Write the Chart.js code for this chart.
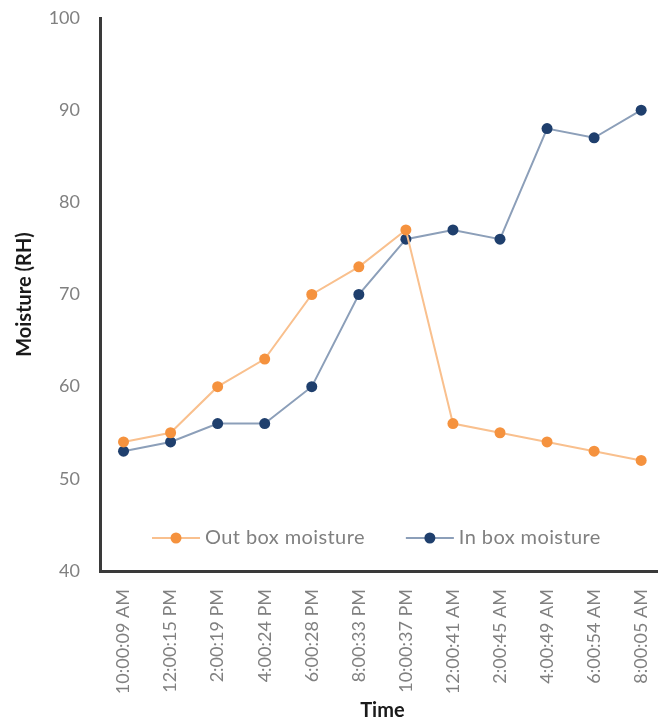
<!DOCTYPE html>
<html>
<head>
<meta charset="utf-8">
<script src="https://cdn.jsdelivr.net/npm/chart.js@4.4.1/dist/chart.umd.min.js"></script>
<style>
  html, body { margin: 0; padding: 0; background: #fff; overflow: hidden; width: 658px; height: 723px; }
  #wrap { width: 681px; height: 723px; }
</style>
</head>
<body>
<div id="wrap"><canvas id="c" width="681" height="723"></canvas></div>
<script>
const timeLabels = ['10:00:09 AM', '12:00:15 PM', '2:00:19 PM', '4:00:24 PM', '6:00:28 PM', '8:00:33 PM',
                    '10:00:37 PM', '12:00:41 AM', '2:00:45 AM', '4:00:49 AM', '6:00:54 AM', '8:00:05 AM'];
const outBoxMoisture = [54, 55, 60, 63, 70, 73, 77, 56, 55, 54, 53, 52];
const inBoxMoisture  = [53, 54, 56, 56, 60, 70, 76, 77, 76, 88, 87, 90];
const yMin = 40, yMax = 100, yStep = 10;

const FONT = 'Lato, "Open Sans", sans-serif';
const TICK_COLOR = '#808080';
const AXIS_COLOR = '#3a3a3a';

// Legend drawn inside the plot, just above the time axis
const insideLegend = {
  id: 'insideLegend',
  afterDatasetsDraw(chart) {
    const { ctx, chartArea } = chart;
    const y = chartArea.bottom - 33;
    const lineLen = 48, gap = 5, itemGap = 41;
    ctx.save();
    ctx.font = '20px ' + FONT;
    ctx.letterSpacing = '0.4px';
    ctx.textBaseline = 'middle';
    let x = chartArea.left + 52;
    chart.data.datasets.forEach(ds => {
      ctx.strokeStyle = ds.borderColor;
      ctx.lineWidth = ds.borderWidth;
      ctx.beginPath();
      ctx.moveTo(x, y);
      ctx.lineTo(x + lineLen, y);
      ctx.stroke();
      ctx.fillStyle = ds.pointBackgroundColor;
      ctx.beginPath();
      ctx.arc(x + lineLen / 2, y, ds.pointRadius, 0, Math.PI * 2);
      ctx.fill();
      ctx.fillStyle = TICK_COLOR;
      ctx.textAlign = 'left';
      ctx.fillText(ds.label, x + lineLen + gap, y);
      x += lineLen + gap + ctx.measureText(ds.label).width + itemGap;
    });
    ctx.restore();
  }
};

new Chart(document.getElementById('c'), {
  type: 'line',
  data: {
    labels: timeLabels,
    datasets: [
      {
        label: 'Out box moisture',
        data: outBoxMoisture,
        borderColor: '#f9c08e',
        borderWidth: 2,
        pointBackgroundColor: '#f5923e',
        pointBorderColor: '#f5923e',
        pointBorderWidth: 0,
        pointRadius: 5.5,
        tension: 0
      },
      {
        label: 'In box moisture',
        data: inBoxMoisture,
        borderColor: '#8c9fb9',
        borderWidth: 2,
        pointBackgroundColor: '#1f3f6d',
        pointBorderColor: '#1f3f6d',
        pointBorderWidth: 0,
        pointRadius: 5.5,
        tension: 0
      }
    ]
  },
  options: {
    responsive: false,
    animation: false,
    devicePixelRatio: 1,
    layout: { padding: { top: 18, left: 0, right: 0, bottom: 0 } },
    plugins: {
      legend: { display: false },
      tooltip: { enabled: false }
    },
    scales: {
      x: {
        offset: true,
        grid: { display: false, drawTicks: false },
        border: { display: true, color: AXIS_COLOR, width: 3 },
        ticks: {
          color: TICK_COLOR,
          font: { family: FONT, size: 18 },
          minRotation: 90,
          maxRotation: 90,
          padding: 18,
          autoSkip: false
        },
        title: {
          display: true,
          text: 'Time',
          color: '#1a1a1a',
          font: { family: FONT, size: 20, weight: 'bold' },
          padding: { top: 0, bottom: 0 }
        },
        afterFit(scale) { scale.height = 152; scale.paddingTop = 0; }
      },
      y: {
        min: yMin,
        max: yMax,
        grid: { display: false, drawTicks: false },
        border: { display: true, color: AXIS_COLOR, width: 3 },
        ticks: {
          stepSize: yStep,
          color: TICK_COLOR,
          font: { family: FONT, size: 18 },
          padding: 20
        },
        title: {
          display: true,
          text: 'Moisture (RH)',
          color: '#1a1a1a',
          font: { family: FONT, size: 20, weight: 'bold' },
          padding: { top: 13, bottom: 0 }
        },
        afterFit(scale) { scale.width = 100; scale.paddingTop = 0; }
      }
    }
  },
  plugins: [insideLegend]
});
</script>
</body>
</html>
